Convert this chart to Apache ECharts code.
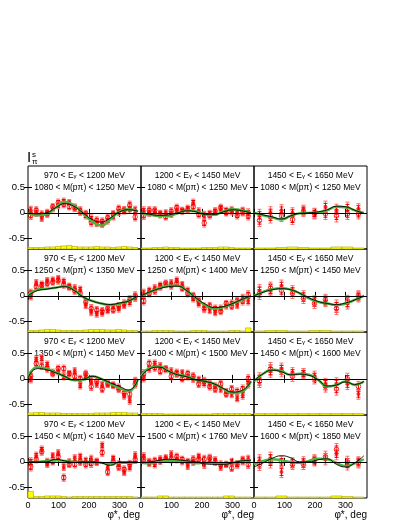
<!DOCTYPE html>
<html>
<head>
<meta charset="utf-8">
<script src="https://cdn.jsdelivr.net/npm/echarts@6/dist/echarts.min.js"></script>
<style>
html, body { margin: 0; padding: 0; background: #fff; }
#main { width: 407px; height: 527px; }
</style>
</head>
<body>
<div id="main"></div>
<script>
// bin centres (deg)
var binsA = [9, 27, 45, 63, 81, 99, 117, 135, 153, 171, 189, 207, 225, 243, 261, 279, 297, 315, 333, 351];
var binsB = [18, 54, 90, 126, 162, 198, 234, 270, 306, 342];
var curveX = [0, 30, 60, 90, 120, 150, 180, 210, 240, 270, 300, 330, 360];
var xTicks = [0, 100, 200, 300];
var yTicks = [-0.5, 0, 0.5];

// typical error sizes
var errA = [0.08, 0.07, 0.07, 0.07, 0.06, 0.07, 0.07, 0.06, 0.07, 0.07, 0.07, 0.08, 0.07, 0.07, 0.07, 0.06, 0.07, 0.07, 0.08, 0.08];
var errB = [0.12, 0.12, 0.11, 0.1, 0.1, 0.1, 0.11, 0.12, 0.11, 0.1];

// panel texts
var eRanges = [['970', '1200'], ['1200', '1450'], ['1450', '1650']];
var mRanges = [
  ['1080', '1250'], ['1080', '1250'], ['1080', '1250'],
  ['1250', '1350'], ['1250', '1400'], ['1250', '1450'],
  ['1350', '1450'], ['1400', '1500'], ['1450', '1600'],
  ['1450', '1640'], ['1500', '1760'], ['1600', '1850']
];

// row 1
var fill00 = [0.05, 0.0, -0.1, 0.0, 0.08, 0.15, 0.22, 0.2, 0.1, 0.05, -0.05, -0.12, -0.2, -0.22, -0.15, -0.08, 0.02, 0.05, 0.08, 0.05];
var open00 = [-0.05, 0.05, -0.03, -0.02, 0.12, 0.2, 0.17, 0.12, 0.1, 0.02, -0.02, -0.18, -0.15, -0.17, -0.1, -0.02, 0.08, 0.05, 0.15, -0.08];
var green00 = [0, -0.05, -0.03, 0.1, 0.22, 0.15, -0.01, -0.17, -0.25, -0.12, 0.03, 0.07, 0.03];
var black00 = [0, -0.02, 0.0, 0.1, 0.18, 0.13, 0.0, -0.13, -0.18, -0.1, 0.02, 0.06, 0.03];
var sys00 = [0.03, 0.03, 0.03, 0.04, 0.04, 0.05, 0.06, 0.07, 0.05, 0.04, 0.04, 0.04, 0.05, 0.04, 0.04, 0.03, 0.04, 0.05, 0.04, 0.03];

var fill01 = [0.04, 0.0, 0.02, -0.02, 0.0, -0.02, 0.05, 0.03, 0.08, 0.2, 0.03, -0.05, -0.02, 0.02, 0.08, 0.05, 0.03, 0.0, 0.03, 0.0];
var open01 = [-0.05, 0.05, 0.05, -0.03, -0.08, 0.03, 0.1, 0.05, 0.06, 0.12, -0.03, -0.2, -0.05, 0.03, 0.1, 0.0, 0.05, -0.05, 0.02, -0.06];
var green01 = [0, -0.04, -0.06, -0.06, -0.01, 0.04, 0.03, -0.03, -0.04, 0.03, 0.07, 0.05, 0.0];
var black01 = [0, -0.03, -0.05, -0.04, 0.0, 0.04, 0.02, -0.03, -0.03, 0.02, 0.06, 0.04, 0.0];
var sys01 = [0.02, 0.02, 0.03, 0.03, 0.04, 0.03, 0.03, 0.02, 0.02, 0.02, 0.02, 0.03, 0.03, 0.03, 0.04, 0.04, 0.03, 0.02, 0.02, 0.02];

var fill02 = [-0.05, 0.0, 0.05, 0.0, 0.05, -0.01, 0.12, 0.05, 0.1, 0.08];
var open02 = [-0.15, -0.08, -0.06, -0.13, 0.03, -0.02, -0.02, -0.06, -0.02, -0.02];
var green02 = [0.0, -0.05, -0.09, -0.13, -0.06, -0.01, 0.0, 0.01, 0.05, 0.12, 0.11, 0.05, 0.0];
var black02 = [0.0, -0.04, -0.08, -0.12, -0.06, -0.01, 0.0, 0.02, 0.06, 0.13, 0.12, 0.05, -0.01];
var sys02 = [0.02, 0.02, 0.03, 0.04, 0.03, 0.02, 0.02, 0.04, 0.04, 0.02];

// row 2
var fill10 = [0.0, 0.25, 0.22, 0.29, 0.31, 0.33, 0.28, 0.19, 0.15, 0.12, -0.18, -0.31, -0.35, -0.33, -0.28, -0.22, -0.25, -0.18, -0.12, -0.03];
var open10 = [0.05, 0.18, 0.2, 0.25, 0.27, 0.3, 0.22, 0.17, 0.1, 0.05, -0.12, -0.25, -0.28, -0.3, -0.25, -0.28, -0.2, -0.15, -0.08, 0.0];
var green10 = [0, 0.12, 0.14, 0.16, 0.19, 0.12, -0.02, -0.1, -0.15, -0.18, -0.15, -0.1, 0.0];
var black10 = [0, 0.1, 0.13, 0.16, 0.18, 0.11, -0.02, -0.1, -0.15, -0.17, -0.14, -0.1, 0.0];
var sys10 = [0.03, 0.03, 0.04, 0.05, 0.05, 0.04, 0.03, 0.03, 0.03, 0.03, 0.04, 0.05, 0.05, 0.05, 0.04, 0.04, 0.05, 0.04, 0.03, 0.03];

var fill11 = [0.05, 0.1, 0.15, 0.2, 0.22, 0.25, 0.3, 0.22, 0.1, -0.05, -0.15, -0.22, -0.28, -0.32, -0.25, -0.2, -0.15, -0.18, -0.05, -0.1];
var open11 = [-0.1, 0.05, 0.1, 0.18, 0.25, 0.2, 0.25, 0.15, 0.05, 0.0, -0.1, -0.25, -0.2, -0.25, -0.3, -0.15, -0.2, -0.1, -0.1, 0.02];
var green11 = [-0.02, 0.08, 0.15, 0.2, 0.2, 0.1, -0.05, -0.18, -0.25, -0.22, -0.15, -0.08, 0.0];
var black11 = [0.0, 0.08, 0.14, 0.18, 0.19, 0.1, -0.04, -0.16, -0.23, -0.21, -0.15, -0.07, 0.0];
var sys11 = [0.02, 0.02, 0.03, 0.03, 0.03, 0.03, 0.02, 0.02, 0.02, 0.03, 0.03, 0.03, 0.02, 0.02, 0.02, 0.02, 0.03, 0.03, 0.02, 0.08];

var fill12 = [0.1, 0.12, 0.2, 0.1, 0.0, -0.1, -0.1, -0.2, -0.15, -0.02];
var open12 = [0.05, 0.15, 0.1, 0.05, -0.05, -0.15, -0.08, -0.25, -0.1, 0.0];
var green12 = [0.0, 0.08, 0.13, 0.15, 0.12, 0.05, -0.05, -0.12, -0.15, -0.18, -0.15, -0.08, 0.0];
var black12 = [0.0, 0.07, 0.12, 0.14, 0.12, 0.05, -0.04, -0.11, -0.15, -0.17, -0.14, -0.08, 0.0];
var sys12 = [0.02, 0.03, 0.03, 0.02, 0.02, 0.03, 0.03, 0.02, 0.02, 0.02];

// row 3
var fill20 = [0.0, 0.38, 0.4, 0.28, 0.13, 0.15, 0.05, 0.1, 0.15, -0.13, 0.07, -0.05, -0.1, -0.12, -0.1, -0.13, -0.17, -0.33, -0.42, -0.05];
var open20 = [0.05, 0.3, 0.25, 0.2, 0.1, 0.2, 0.2, 0.1, 0.05, 0.0, 0.1, -0.15, -0.05, -0.2, -0.1, -0.12, -0.2, -0.28, -0.3, -0.1];
var green20 = [0.03, 0.23, 0.2, 0.13, 0.05, -0.03, -0.02, 0.05, 0.0, -0.1, -0.18, -0.24, 0.0];
var black20 = [0.02, 0.2, 0.18, 0.12, 0.05, -0.02, -0.01, 0.05, 0.0, -0.08, -0.15, -0.22, -0.02];
var sys20 = [0.04, 0.05, 0.05, 0.04, 0.04, 0.04, 0.03, 0.03, 0.03, 0.03, 0.03, 0.03, 0.04, 0.04, 0.04, 0.05, 0.05, 0.05, 0.04, 0.04];

var fill21 = [0.02, 0.2, 0.3, 0.25, 0.18, 0.15, 0.1, 0.12, 0.05, 0.0, -0.02, -0.08, -0.1, -0.15, -0.2, -0.25, -0.3, -0.38, -0.32, -0.1];
var open21 = [0.1, 0.3, 0.22, 0.15, 0.2, 0.05, 0.12, 0.0, 0.1, 0.05, -0.1, -0.05, -0.15, -0.2, -0.1, -0.3, -0.2, -0.25, -0.2, 0.0];
var green21 = [0.05, 0.22, 0.25, 0.15, 0.08, 0.05, -0.02, -0.05, -0.1, -0.2, -0.28, -0.25, -0.05];
var black21 = [0.04, 0.2, 0.23, 0.15, 0.08, 0.04, -0.02, -0.05, -0.1, -0.19, -0.26, -0.23, -0.05];
var sys21 = [0.03, 0.03, 0.03, 0.03, 0.02, 0.02, 0.02, 0.02, 0.02, 0.02, 0.02, 0.02, 0.02, 0.03, 0.03, 0.03, 0.03, 0.03, 0.03, 0.03];

var fill22 = [0.0, 0.15, 0.2, 0.12, 0.1, 0.05, -0.1, -0.1, -0.1, -0.3];
var open22 = [-0.05, 0.2, 0.15, 0.05, 0.1, 0.0, -0.15, -0.2, 0.0, -0.15];
var green22 = [-0.05, 0.1, 0.18, 0.15, 0.08, 0.1, 0.08, -0.02, -0.15, -0.12, -0.05, -0.12, -0.05];
var black22 = [-0.04, 0.1, 0.17, 0.14, 0.08, 0.09, 0.07, -0.02, -0.14, -0.12, -0.06, -0.11, -0.05];
var sys22 = [0.03, 0.03, 0.03, 0.03, 0.03, 0.03, 0.03, 0.03, 0.03, 0.03];

// row 4
var fill30 = [0.0, 0.12, 0.24, -0.04, 0.12, 0.17, -0.1, 0.0, 0.07, 0.1, 0.02, 0.05, 0.0, 0.32, -0.1, 0.07, -0.05, -0.2, -0.1, 0.12];
var open30 = [-0.1, 0.05, 0.2, 0.0, 0.0, 0.1, -0.31, -0.05, -0.05, 0.0, -0.05, -0.03, 0.0, 0.18, -0.2, 0.0, -0.1, -0.15, -0.05, 0.05];
var green30 = [0, 0.0, 0.02, 0.03, 0.02, 0.0, 0.0, 0.0, -0.02, -0.04, -0.02, -0.02, 0.0];
var black30 = [0, 0.0, 0.0, 0.05, 0.02, -0.01, 0.0, 0.0, -0.02, -0.07, 0.0, 0.0, 0.0];
var sys30 = [0.13, 0.03, 0.03, 0.04, 0.04, 0.04, 0.03, 0.02, 0.03, 0.03, 0.03, 0.03, 0.03, 0.03, 0.03, 0.03, 0.03, 0.03, 0.03, 0.02];

var fill31 = [0.1, -0.02, -0.05, 0.05, 0.08, 0.15, 0.05, 0.0, -0.08, 0.0, 0.1, -0.05, 0.05, 0.03, -0.1, -0.05, 0.0, -0.05, 0.03, 0.05];
var open31 = [0.05, 0.0, 0.02, 0.02, 0.05, 0.05, 0.1, 0.05, 0.0, 0.05, 0.05, 0.05, 0.08, 0.0, -0.05, -0.05, -0.12, -0.05, 0.02, -0.05];
var green31 = [-0.02, -0.03, 0.0, 0.02, 0.02, 0.0, -0.03, -0.02, -0.02, -0.03, -0.02, 0.02, 0.03];
var black31 = [-0.02, 0.0, 0.03, 0.05, 0.04, 0.02, 0.0, -0.04, -0.05, -0.05, -0.02, 0.02, 0.03];
var sys31 = [0.02, 0.02, 0.02, 0.04, 0.04, 0.02, 0.02, 0.02, 0.02, 0.02, 0.02, 0.02, 0.02, 0.02, 0.02, 0.04, 0.04, 0.02, 0.02, 0.02];

var fill32 = [0.02, 0.07, -0.2, -0.02, 0.0, 0.02, 0.05, 0.16, -0.05, 0.0];
var open32 = [-0.05, 0.0, 0.0, -0.05, -0.05, 0.04, 0.1, 0.24, 0.0, -0.02];
var green32 = [-0.05, 0.02, 0.05, 0.03, 0.0, -0.02, 0.02, 0.06, 0.05, -0.02, -0.08, -0.03, 0.05];
var black32 = [-0.1, -0.02, 0.07, 0.12, 0.08, 0.0, 0.0, 0.04, 0.06, -0.05, -0.1, -0.02, 0.12];
var sys32 = [0.02, 0.02, 0.04, 0.02, 0.02, 0.02, 0.02, 0.04, 0.03, 0.02];

var fills = [fill00, fill01, fill02, fill10, fill11, fill12, fill20, fill21, fill22, fill30, fill31, fill32];
var opens = [open00, open01, open02, open10, open11, open12, open20, open21, open22, open30, open31, open32];
var greens = [green00, green01, green02, green10, green11, green12, green20, green21, green22, green30, green31, green32];
var blacks = [black00, black01, black02, black10, black11, black12, black20, black21, black22, black30, black31, black32];
var syss = [sys00, sys01, sys02, sys10, sys11, sys12, sys20, sys21, sys22, sys30, sys31, sys32];

(function () {
  var FONT = 'Liberation Sans, Arial, Helvetica, sans-serif';
  var YMIN = -0.71, YMAX = 0.92, XMAX = 370;
  var grids = [], xAxes = [], yAxes = [], series = [], graphics = [];

  function pairs(xs, ys) {
    return ys.map(function (v, k) { return [xs[k], v]; });
  }

  // fresh tick object for every axis
  function makeTick(vals) {
    return { inside: true, length: 4, customValues: vals.slice(), lineStyle: { color: '#000', width: 1 } };
  }

  // error bar: outer (total) and inner (stat) with caps
  function errItem(params, api) {
    var x = api.value(0), y = api.value(1), e = api.value(2);
    var kids = [];
    [[e, '#ff6a6a'], [e * 0.6, '#e80000']].forEach(function (p) {
      var lo = api.coord([x, y - p[0]]), hi = api.coord([x, y + p[0]]);
      kids.push({ type: 'line', shape: { x1: lo[0], y1: lo[1], x2: hi[0], y2: hi[1] }, style: { stroke: p[1], lineWidth: 1 } });
      kids.push({ type: 'line', shape: { x1: lo[0] - 2, y1: lo[1], x2: lo[0] + 2, y2: lo[1] }, style: { stroke: p[1], lineWidth: 1 } });
      kids.push({ type: 'line', shape: { x1: hi[0] - 2, y1: hi[1], x2: hi[0] + 2, y2: hi[1] }, style: { stroke: p[1], lineWidth: 1 } });
    });
    return { type: 'group', children: kids };
  }

  // systematic histogram at the bottom
  function sysItem(params, api) {
    var x0 = api.value(0), x1 = api.value(1), h = api.value(2);
    var a = api.coord([x0, YMIN]), b = api.coord([x1, YMIN + h]);
    return {
      type: 'rect',
      shape: { x: a[0], y: b[1], width: b[0] - a[0], height: a[1] - b[1] },
      style: { fill: '#ffff00', stroke: '#a8a800', lineWidth: 0.6 }
    };
  }

  for (var r = 0; r < 4; r++) {
    for (var c = 0; c < 3; c++) {
      var i = r * 3 + c;
      var gLeft = 28 + 113 * c, gTop = 166 + 83 * r;
      grids.push({ left: gLeft, top: gTop, width: 113, height: 83, show: true, borderColor: '#000', borderWidth: 1 });

      xAxes.push({
        gridIndex: i, type: 'value', min: 0, max: XMAX, position: 'bottom',
        axisLine: { show: false }, splitLine: { show: false },
        axisTick: makeTick(xTicks),
        axisLabel: { show: r === 3, customValues: xTicks.slice(), fontSize: 9, color: '#000', margin: 3, fontFamily: FONT }
      });
      xAxes.push({
        gridIndex: i, type: 'value', min: 0, max: XMAX, position: 'top',
        axisLine: { show: false }, splitLine: { show: false },
        axisTick: makeTick(xTicks),
        axisLabel: { show: false }
      });
      yAxes.push({
        gridIndex: i, type: 'value', min: YMIN, max: YMAX, position: 'left',
        axisLine: { show: false }, splitLine: { show: false },
        axisTick: makeTick(yTicks),
        axisLabel: { show: c === 0, customValues: yTicks.slice(), fontSize: 9.5, color: '#000', margin: 3, fontFamily: FONT }
      });
      yAxes.push({
        gridIndex: i, type: 'value', min: YMIN, max: YMAX, position: 'right',
        axisLine: { show: false }, splitLine: { show: false },
        axisTick: makeTick(yTicks),
        axisLabel: { show: false }
      });

      var xi = i * 2, yi = i * 2;
      var bins = c === 2 ? binsB : binsA;
      var errs = c === 2 ? errB : errA;
      var w = 360 / bins.length;

      series.push({
        type: 'custom', xAxisIndex: xi, yAxisIndex: yi, renderItem: sysItem, silent: true,
        data: syss[i].map(function (h, k) { return [bins[k] - w / 2, bins[k] + w / 2, h]; })
      });
      series.push({
        type: 'line', xAxisIndex: xi, yAxisIndex: yi, smooth: true, symbol: 'none', silent: true,
        lineStyle: { color: '#4cb33c', width: 2.4 },
        data: pairs(curveX, greens[i])
      });
      series.push({
        type: 'line', xAxisIndex: xi, yAxisIndex: yi, smooth: true, symbol: 'none', silent: true,
        lineStyle: { color: '#000', width: 0.9 },
        data: pairs(curveX, blacks[i]),
        markLine: { silent: true, symbol: 'none', label: { show: false }, lineStyle: { color: '#000', width: 1, type: 'solid' }, data: [{ yAxis: 0 }] }
      });
      series.push({
        type: 'custom', xAxisIndex: xi, yAxisIndex: yi, renderItem: errItem, silent: true,
        data: opens[i].map(function (v, k) { return [bins[k], v, errs[k]]; })
      });
      series.push({
        type: 'custom', xAxisIndex: xi, yAxisIndex: yi, renderItem: errItem, silent: true,
        data: fills[i].map(function (v, k) { return [bins[k], v, errs[k]]; })
      });
      series.push({
        type: 'scatter', xAxisIndex: xi, yAxisIndex: yi, symbol: 'circle', symbolSize: 4.5, silent: true,
        itemStyle: { color: 'rgba(0,0,0,0)', borderColor: '#ff0000', borderWidth: 1 },
        data: pairs(bins, opens[i])
      });
      series.push({
        type: 'scatter', xAxisIndex: xi, yAxisIndex: yi, symbol: 'circle', symbolSize: 4, silent: true,
        itemStyle: { color: '#ff0000' },
        data: pairs(bins, fills[i])
      });

      // panel captions
      var er = eRanges[c], mr = mRanges[i];
      graphics.push({
        type: 'text', x: gLeft + 56.5, y: gTop + 10, silent: true,
        style: {
          text: er[0] + ' < E{g|γ} < ' + er[1] + ' MeV', align: 'center', verticalAlign: 'middle',
          fontSize: 8.5, fontFamily: FONT, fill: '#000',
          rich: { g: { fontSize: 6, fontFamily: FONT } }
        }
      });
      graphics.push({
        type: 'text', x: gLeft + 56.5, y: gTop + 22, silent: true,
        style: { text: mr[0] + ' < M(pπ) < ' + mr[1] + ' MeV', align: 'center', verticalAlign: 'middle', fontSize: 8.5, fontFamily: FONT, fill: '#000' }
      });
    }
  }

  // axis titles
  [140, 254, 367].forEach(function (xr) {
    graphics.push({ type: 'text', x: xr, y: 515, silent: true,
      style: { text: 'φ*, deg', align: 'right', verticalAlign: 'middle', fontSize: 10, fontFamily: FONT, fill: '#000' } });
  });
  graphics.push({ type: 'text', x: 27, y: 158, silent: true,
    style: { text: 'I', align: 'left', verticalAlign: 'middle', fontSize: 15, fontFamily: FONT, fill: '#000' } });
  graphics.push({ type: 'text', x: 32, y: 155, silent: true,
    style: { text: 's', align: 'left', verticalAlign: 'middle', fontSize: 8, fontFamily: FONT, fill: '#000' } });
  graphics.push({ type: 'text', x: 32, y: 162, silent: true,
    style: { text: 'π', align: 'left', verticalAlign: 'middle', fontSize: 8, fontFamily: FONT, fill: '#000' } });

  var chart = echarts.init(document.getElementById('main'), null, { renderer: 'canvas' });
  chart.setOption({
    animation: false,
    backgroundColor: '#fff',
    grid: grids,
    xAxis: xAxes,
    yAxis: yAxes,
    series: series,
    graphic: graphics
  });
})();
</script>
</body>
</html>
